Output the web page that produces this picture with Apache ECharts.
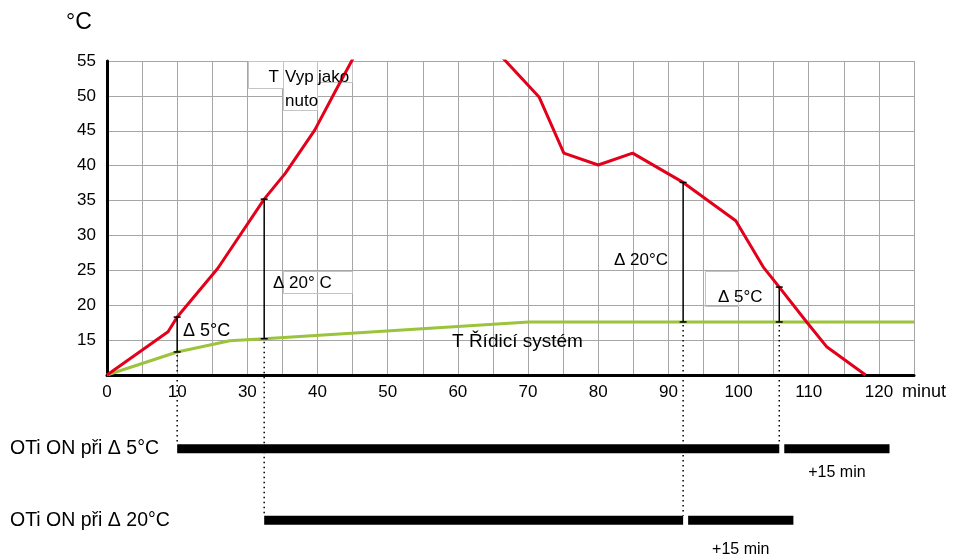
<!DOCTYPE html>
<html>
<head>
<meta charset="utf-8">
<script src="https://cdn.jsdelivr.net/npm/echarts@6/dist/echarts.min.js"></script>
<style>
  html, body { margin: 0; padding: 0; background: #fff; }
  #chart { width: 954px; height: 556px; }
</style>
</head>
<body>
<div id="chart"></div>
<script>
// Horizontal positions are measured in grid minutes (each grid column = 5 min);
// the printed tick texts follow the diagram's own scale.
const minuteTicks = ['0', '10', '30', '40', '50', '60', '70', '80', '90', '100', '110', '120'];

// T Vyp jako nuto – rising part and falling part (peak lies above the plotted range)
const heatingRise = [[0, 10], [8.7, 16.2], [10, 18.3], [15.8, 25.3], [22.4, 35.2], [25.4, 38.9],
                     [29.6, 45.1], [32.5, 50.6], [35.4, 56.0]];
const heatingFall = [[55.7, 56.2], [61.6, 49.8], [65.1, 41.8], [70, 40.1], [74.9, 41.8], [82.1, 37.6],
                     [89.6, 32.1], [93.5, 25.5], [95.8, 22.6], [99.7, 17.6], [102.6, 14.0], [108.1, 10]];
// T Řídicí systém
const systemTemp = [[0, 10], [10, 13.3], [17.5, 14.9], [22.4, 15.2], [60.1, 17.6], [115, 17.6]];

// Temperature differences between the two curves
const deltaAt   = [10, 22.4, 82.1, 95.8];
const deltaBase = [13.3, 15.2, 17.6, 17.6];
const deltaSize = [5, 20, 20, 5];

// Switching rows of the OTi unit
const onRows   = ['OTi ON při Δ 5°C', 'OTi ON při Δ 20°C'];
const onStart  = [10, 22.4];
const onStop   = [95.8, 82.1];
const afterRun = 15;

const FONT = '"Liberation Sans", Arial, sans-serif';
const RED = '#e3001b';
const GREEN = '#9bc33c';
const GRIDLINE = '#a6a6a6';

const chart = echarts.init(document.getElementById('chart'), null, { renderer: 'canvas' });

const barData = [];
onRows.forEach((name, r) => {
  barData.push([r, onStart[r], onStop[r], 0]);
  barData.push([r, onStop[r], onStop[r] + afterRun, 1]);
});

const deltaData = deltaAt.map((x, i) => [x, deltaBase[i], deltaBase[i] + deltaSize[i]]);

chart.setOption({
  animation: false,
  backgroundColor: '#fff',
  textStyle: { fontFamily: FONT },
  grid: [
    { left: 107, top: 61, width: 807, height: 314 },
    { left: 107, top: 413, width: 807, height: 146 }
  ],
  xAxis: [
    {
      type: 'value', gridIndex: 0, min: 0, max: 115, interval: 5,
      axisLine: { onZero: false, lineStyle: { color: '#000', width: 3 } },
      axisTick: { show: false },
      splitLine: { show: true, lineStyle: { color: GRIDLINE, width: 1 } },
      axisLabel: {
        color: '#000', fontSize: 17, fontFamily: FONT, margin: 9,
        formatter: v => (v % 10 === 0 && minuteTicks[v / 10] !== undefined) ? minuteTicks[v / 10] : ''
      }
    },
    {
      type: 'value', gridIndex: 1, min: 0, max: 115, show: false
    }
  ],
  yAxis: [
    {
      type: 'value', gridIndex: 0, min: 10, max: 55, interval: 5,
      axisLine: { show: true, onZero: false, lineStyle: { color: '#000', width: 3 } },
      axisTick: { show: false },
      splitLine: { show: true, lineStyle: { color: GRIDLINE, width: 1 } },
      axisLabel: {
        color: '#000', fontSize: 17, fontFamily: FONT, margin: 11,
        formatter: v => (v === 10 ? '' : String(v))
      }
    },
    {
      type: 'category', gridIndex: 1, data: onRows, inverse: true,
      axisLine: { show: false }, axisTick: { show: false }, splitLine: { show: false },
      axisLabel: { color: '#000', fontSize: 19.5, fontFamily: FONT, align: 'left', margin: 97 }
    }
  ],
  series: [
    {
      name: 'T Řídicí systém', type: 'line', xAxisIndex: 0, yAxisIndex: 0,
      data: systemTemp, symbol: 'none', clip: true,
      lineStyle: { color: GREEN, width: 3 }, z: 3
    },
    {
      name: 'T Vyp jako nuto', type: 'line', xAxisIndex: 0, yAxisIndex: 0,
      data: heatingRise, symbol: 'none', clip: true,
      lineStyle: { color: RED, width: 3 }, z: 4
    },
    {
      name: 'T Vyp jako nuto ', type: 'line', xAxisIndex: 0, yAxisIndex: 0,
      data: heatingFall, symbol: 'none', clip: true,
      lineStyle: { color: RED, width: 3 }, z: 4
    },
    {
      name: 'Δ', type: 'custom', xAxisIndex: 0, yAxisIndex: 0, z: 5,
      data: deltaData,
      encode: { x: 0, y: [1, 2] },
      renderItem: (params, api) => {
        const lo = api.coord([api.value(0), api.value(1)]);
        const hi = api.coord([api.value(0), api.value(2)]);
        const st = { stroke: '#000', lineWidth: 1.5 };
        const cap = 3.5;
        return {
          type: 'group',
          children: [
            { type: 'line', shape: { x1: lo[0], y1: lo[1], x2: hi[0], y2: hi[1] }, style: st },
            { type: 'line', shape: { x1: lo[0] - cap, y1: lo[1], x2: lo[0] + cap, y2: lo[1] }, style: st },
            { type: 'line', shape: { x1: hi[0] - cap, y1: hi[1], x2: hi[0] + cap, y2: hi[1] }, style: st }
          ]
        };
      }
    },
    {
      name: 'OTi', type: 'custom', xAxisIndex: 1, yAxisIndex: 1, z: 5,
      data: barData,
      encode: { x: [1, 2], y: 0 },
      renderItem: (params, api) => {
        const row = api.value(0);
        const p0 = api.coord([api.value(1), row]);
        const p1 = api.coord([api.value(2), row]);
        const isAfter = api.value(3) === 1;
        const h = 9;
        // the after-run piece is set apart from the main bar by a small gap
        const shift = isAfter ? 5 : 0;
        const x0 = p0[0] + shift;
        const x1 = p1[0] + shift;
        const children = [{
          type: 'rect',
          shape: { x: x0, y: p0[1] - h / 2, width: x1 - x0, height: h },
          style: { fill: '#000' }
        }];
        if (isAfter) {
          children.push({
            type: 'text',
            x: (x0 + x1) / 2, y: p0[1] + (row === 0 ? 24 : 29),
            style: {
              text: '+' + afterRun + ' min', fill: '#000',
              font: '16px ' + FONT, align: 'center', verticalAlign: 'middle'
            }
          });
        }
        return { type: 'group', children };
      }
    }
  ]
});

// Dotted guides from each Δ foot down to the switching bar it starts or stops
const guides = deltaAt.map((x, i) => {
  const top = chart.convertToPixel({ xAxisIndex: 0, yAxisIndex: 0 }, [x, deltaBase[i]]);
  const row = deltaSize[i] === 5 ? 0 : 1;
  const bot = chart.convertToPixel({ xAxisIndex: 1, yAxisIndex: 1 }, [x, onRows[row]]);
  return {
    type: 'line', z: 6,
    shape: { x1: top[0], y1: top[1] + 3, x2: top[0], y2: bot[1] - 4.5 },
    style: { stroke: '#000', lineWidth: 1.5, lineDash: [1.5, 3.5] }
  };
});

function txt(text, x, y, size, align) {
  return {
    type: 'text', z: 20, x, y,
    style: { text, fill: '#000', font: size + 'px ' + FONT, align: align || 'left', verticalAlign: 'middle' }
  };
}
function box(x, y, w, h, fill) {
  return {
    type: 'rect', z: 1,
    shape: { x, y, width: w, height: h },
    style: { fill: fill ? '#fff' : 'none', stroke: '#c4c4c4', lineWidth: 1 }
  };
}

chart.setOption({
  graphic: [
    box(248.5, 61.5, 35, 27, true),
    box(283.5, 61.5, 34, 49, true),
    box(317.5, 61.5, 35, 21, true),
    box(283.5, 271.5, 69, 22, false),
    box(705.5, 271.5, 33, 35, false),
    txt('°C', 66, 23, 23),
    txt('T', 279, 77, 17, 'right'),
    txt('Vyp', 285, 77, 17),
    txt('jako', 318, 77, 17),
    txt('nuto', 285, 101, 17),
    txt('Δ 5°C', 183, 331, 18),
    txt('Δ 20° C', 273, 283, 17),
    txt('Δ 20°C', 614, 260, 17),
    txt('Δ 5°C', 718, 297, 17),
    txt('T Řídicí systém', 452, 342, 19),
    txt('minut', 902, 392, 18)
  ].concat(guides)
});
</script>
</body>
</html>
